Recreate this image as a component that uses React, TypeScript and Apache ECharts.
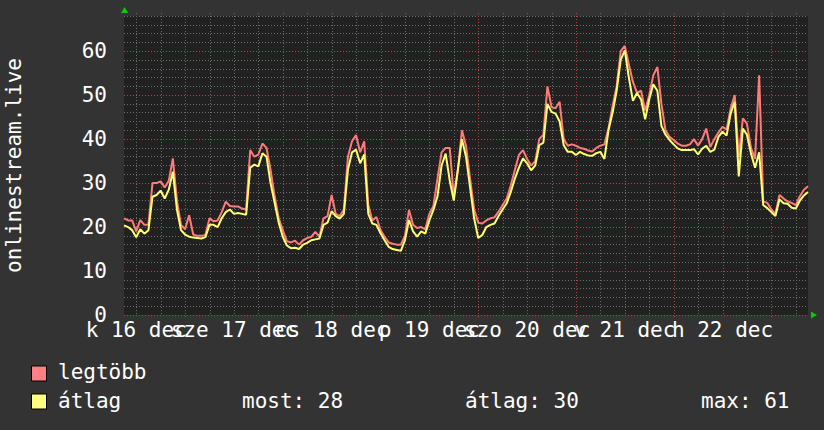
import React, { useEffect, useRef } from "react";
import * as echarts from "echarts";

// Time axis: hourly samples starting Tue 16 Dec 09:00, 169 points (one week)
const START_HOUR = 9;
const dayLabels = ["k 16 dec", "sze 17 dec", "cs 18 dec", "p 19 dec", "szo 20 dec", "v 21 dec", "h 22 dec"];

const maxValues = [
  22, 21.5, 21.5, 19, 21.6, 20.5, 20.5, 30, 30, 30.4,
  29, 30.5, 35.6, 26, 20.5, 19.5, 22.7, 18.3, 18, 18,
  18.2, 22, 21.3, 21.5, 23.4, 25.8, 24.8, 24.7, 24.7, 24.2,
  24, 37.5, 36, 36.5, 39, 38, 33, 27, 22, 19.3,
  16.8, 16.5, 16.9, 16, 17, 17.5, 17.8, 18.9, 17.8, 22,
  22.5, 27.3, 23, 22.5, 24, 36, 39.5, 40.9, 37, 39.5,
  25, 21.5, 22.3, 19.3, 17.8, 16.5, 16.2, 16, 16, 18,
  23.9, 20.5, 19.8, 20, 19.5, 23, 24.8, 31, 37, 38,
  38, 27, 33, 42, 38.5, 31, 24, 21, 20.8, 21.5,
  22, 22.2, 23.5, 25, 26.5, 29.5, 33, 36.4, 37.5, 35.5,
  34, 35, 40, 41, 52, 47.3, 47, 48.5, 40, 38.5,
  38.8, 38.5, 38, 37.8, 37.4, 37.2, 38, 38.5, 38.8, 42.5,
  47.5, 52, 60, 61.2, 57, 53, 50.5, 51, 46.5, 50,
  54.5, 56.4, 48, 42, 40.5, 39.8, 39, 38.5, 38.5, 38.8,
  40, 38.5, 40, 42.4, 38.2, 40, 41.5, 42.8, 42.2, 47,
  50, 36, 44.7, 43.5, 38, 35.5, 54.5, 25.8, 25.5, 24,
  23, 27.3, 26.5, 25.8, 25.5, 25, 27, 28.5, 29.3,
];

const avgValues = [
  20.4, 20, 19.3, 17.7, 19.5, 18.5, 19.3, 26.9, 27.3, 28.3,
  26.5, 28.5, 32.6, 24, 19.3, 18.3, 17.8, 17.6, 17.5, 17.4,
  17.7, 20.5, 20.5, 20, 22, 23.4, 24, 23, 23.2, 23,
  22.8, 33.5, 34.2, 33.8, 36.8, 36, 30, 25.5, 21, 17.8,
  15.8, 15.2, 15.3, 15, 16, 16.4, 17, 17.2, 17.4, 20.5,
  21, 23.6, 22.5, 21.9, 23, 33, 37, 37.6, 34.5, 36.5,
  23, 20.8, 20.5, 18.6, 17, 15.5, 15, 14.8, 14.6, 17,
  21.6, 19, 17.8, 19, 18.5, 21.5, 23.9, 27, 34, 36.7,
  30.6, 26, 33, 40, 36, 29, 22, 17.5, 18.2, 20,
  20.5, 20.8, 22.5, 24, 25.4, 28, 31, 33.5, 35.6, 34.5,
  32.9, 34, 38.6, 39.2, 48, 46.2, 45.8, 44, 38.6, 37.1,
  37.1, 36.4, 37.1, 36.6, 36.3, 36.2, 36.8, 37.1, 35.5, 42,
  46, 51, 58, 60.2, 54, 48.7, 50.5, 49, 44.5, 49,
  52.5, 51, 43, 41, 39.8, 38.8, 37.9, 37.5, 37.5, 37.5,
  37.7, 36.5, 37.8, 38.5, 37.1, 37.6, 40.5, 41.7, 40.8, 45.8,
  48.5, 31.5, 42.4, 41, 36.7, 33.5, 37, 25, 24.3, 23.4,
  22.5, 26.3, 25.4, 25.3, 24.4, 24.2, 26, 27.2, 28,
];

const yMax = 68;
const legendNames = ["legtöbb", "átlag"];
const statLabels = ["most: 28", "átlag: 30", "max: 61"];
const axisTitle = "onlinestream.live";

const FONT = '"DejaVu Sans Mono", monospace';
const FS = 21;
const RED = "#ff7b7b";
const YELLOW = "#ffff70";
const MINOR = "#6c6c6c";
const MAJOR = "#a84848";

const hourOfDay = (i: number) => (START_HOUR + i) % 24;
const dayIndex = (i: number) => Math.floor((START_HOUR + i) / 24);
const categories = maxValues.map((_, i) => `h${i}`);

export default function App() {
  const ref = useRef<HTMLDivElement>(null);
  useEffect(() => {
    if (!ref.current) return;
    const chart = echarts.init(ref.current, null, { renderer: "svg" });
    const yRedColors = [];
    for (let v = 0; v <= yMax; v += 10) yRedColors.push(MAJOR);
    yRedColors.push(MINOR);
    const minorIdx: number[] = [];
    const majorIdx: number[] = [];
    categories.forEach((_, i) => {
      const h = hourOfDay(i);
      if (h === 0) majorIdx.push(i);
      else if (h % 6 === 0) minorIdx.push(i);
    });
    const isLabel = (i: number, parity: number) => hourOfDay(i) === 12 && dayIndex(i) % 2 === parity;
    const labelCfg = (parity: number) => ({
      show: true,
      interval: (i: number) => isLabel(i, parity),
      formatter: (_v: string, i: number) => (isLabel(i, parity) ? dayLabels[dayIndex(i)] : ""),
      showMinLabel: true,
      showMaxLabel: true,
      hideOverlap: false,
      color: "#ffffff",
      fontFamily: FONT,
      fontSize: FS,
      margin: 4,
    });
    const textStyle = (text: string) => ({ text, fill: "#ffffff", font: `${FS}px ${FONT}`, verticalAlign: "middle" });
    const baseGraphic: any[] = [
      { id: "arrowUp", type: "polygon", shape: { points: [[121, 13], [128, 13], [124.5, 7]] }, style: { fill: "#00d000" } },
      { id: "arrowRight", type: "polygon", shape: { points: [[811, 311.5], [811, 318.5], [817, 315]] }, style: { fill: "#00d000" } },
      { id: "box0", type: "rect", shape: { x: 31.5, y: 366, width: 15, height: 15 }, style: { fill: "#ff8080", stroke: "#000000", lineWidth: 1 } },
      { id: "box1", type: "rect", shape: { x: 31.5, y: 394, width: 15, height: 15 }, style: { fill: "#ffff80", stroke: "#000000", lineWidth: 1 } },
      { id: "leg0", type: "text", x: 58, y: 372, style: textStyle(legendNames[0]) },
      { id: "leg1", type: "text", x: 58, y: 401, style: textStyle(legendNames[1]) },
      { id: "stat0", type: "text", x: 242, y: 401, style: textStyle(statLabels[0]) },
      { id: "stat1", type: "text", x: 465, y: 401, style: textStyle(statLabels[1]) },
      { id: "stat2", type: "text", x: 701, y: 401, style: textStyle(statLabels[2]) },
    ];
    chart.setOption({
      animation: false,
      backgroundColor: "#333333",
      grid: {
        left: 124,
        right: 16,
        top: 16,
        bottom: 115,
        show: true,
        backgroundColor: "#212121",
        borderWidth: 0,
        containLabel: false,
        outerBoundsMode: "none",
      },
      xAxis: [
        {
          type: "category",
          data: categories,
          boundaryGap: false,
          axisLine: { show: false },
          axisTick: { show: false },
          axisLabel: labelCfg(0),
          splitLine: { show: false },
        },
        {
          type: "category",
          data: categories,
          boundaryGap: false,
          position: "bottom",
          axisLine: { show: false },
          axisTick: { show: false },
          axisLabel: labelCfg(1),
          splitLine: { show: false },
        },
      ],
      yAxis: [
        {
          type: "value",
          min: 0,
          max: yMax,
          interval: 2,
          name: axisTitle,
          nameLocation: "middle",
          nameGap: 100,
          nameTextStyle: { color: "#ffffff", fontFamily: FONT, fontSize: FS },
          axisLine: { show: false },
          axisTick: { show: false },
          axisLabel: {
            formatter: (v: number) => (v % 10 === 0 ? String(v) : ""),
            color: "#ffffff",
            fontFamily: FONT,
            fontSize: FS,
            margin: 17,
          },
          splitLine: { show: true, lineStyle: { color: MINOR, width: 1, type: [1, 2] } },
        },
        {
          type: "value",
          min: 0,
          max: yMax,
          interval: 10,
          position: "left",
          axisLine: { show: false },
          axisTick: { show: false },
          axisLabel: { show: false },
          splitLine: { show: true, lineStyle: { color: yRedColors, width: 1, type: [1, 2] } },
        },
      ],
      series: [
        {
          name: legendNames[0],
          type: "line",
          data: maxValues,
          showSymbol: false,
          symbol: "none",
          z: 3,
          lineStyle: { color: RED, width: 2 },
          itemStyle: { color: RED },
        },
        {
          name: legendNames[1],
          type: "line",
          data: avgValues,
          showSymbol: false,
          symbol: "none",
          z: 4,
          lineStyle: { color: YELLOW, width: 2 },
          itemStyle: { color: YELLOW },
        },
      ],
      graphic: baseGraphic,
    });
    // vertical grid lines, positioned through the category axis scale
    const yTop = chart.convertToPixel({ yAxisIndex: 0 }, yMax) as number;
    const yBot = chart.convertToPixel({ yAxisIndex: 0 }, 0) as number;
    const vLine = (i: number, color: string, tick: number, kind: string) => {
      const x = Math.round(chart.convertToPixel({ xAxisIndex: 0 }, categories[i]) as number) + 0.5;
      return {
        id: `${kind}${i}`,
        type: "line",
        z: 1,
        silent: true,
        shape: { x1: x, y1: yTop - 3, x2: x, y2: yBot + tick },
        style: { stroke: color, lineWidth: 1, lineDash: [1, 2] },
      };
    };
    chart.setOption({
      graphic: [
        ...minorIdx.map((i) => vLine(i, MINOR, 0, "minor")),
        ...majorIdx.map((i) => vLine(i, MAJOR, 3, "major")),
      ],
    });
    return () => chart.dispose();
  }, []);
  return (
    <div
      ref={ref}
      style={{ position: "fixed", left: 0, top: 0, width: 824, height: 430 }}
    />
  );
}
